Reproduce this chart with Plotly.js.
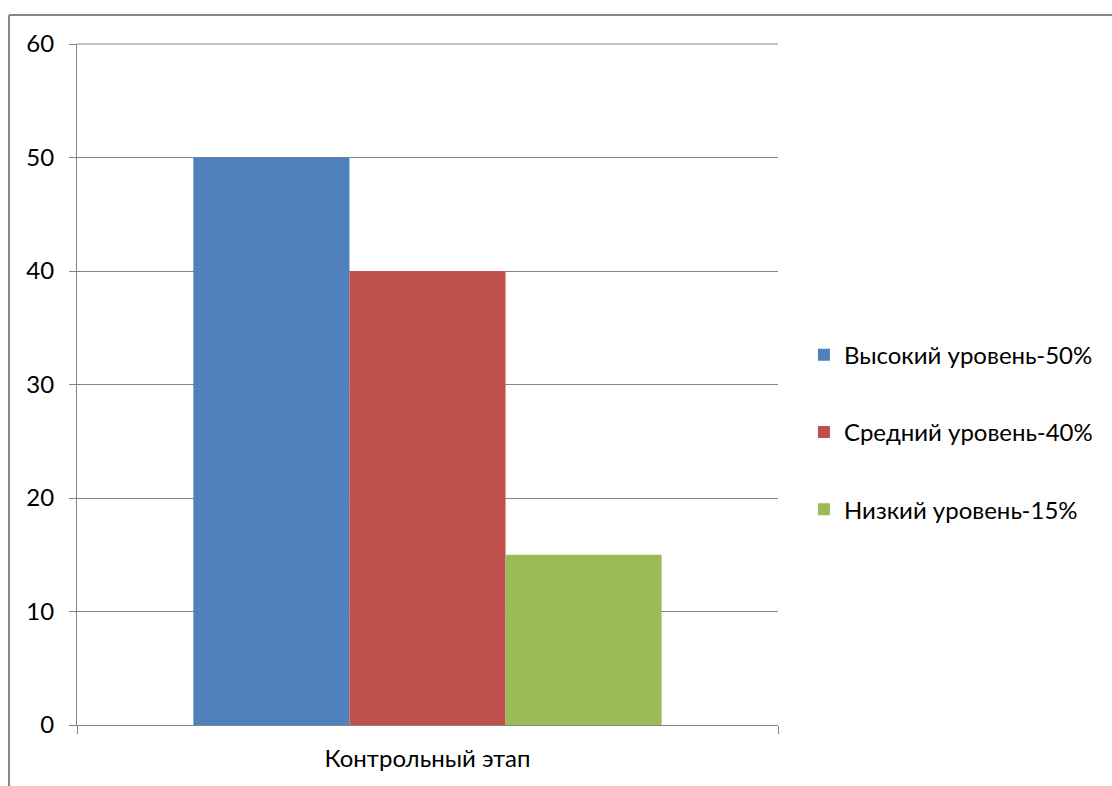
<!DOCTYPE html>
<html>
<head>
<meta charset="utf-8">
<script src="https://cdn.plot.ly/plotly-3.0.1.min.js"></script>
<style>html,body{margin:0;padding:0;background:#fff;}#chart{width:1112px;height:786px;}</style>
</head>
<body>
<div id="chart"></div>
<script>
const categories = ["Контрольный этап"];
const seriesNames = ["Высокий уровень-50%", "Средний уровень-40%", "Низкий уровень-15%"];
const seriesValues = [[50], [40], [15]];
const seriesColors = ["#4F81BD", "#C0504D", "#9BBB59"];
const yTicks = [0, 10, 20, 30, 40, 50, 60];

const FONT = "Lato, 'Open Sans', sans-serif";
const traces = seriesNames.map((n, i) => ({
  type: "bar",
  name: n,
  x: categories,
  y: seriesValues[i],
  marker: {color: seriesColors[i], line: {width: 0}},
  legendgroup: "g" + i,
  hoverinfo: "none"
}));

const layout = {
  width: 1112, height: 786,
  margin: {l: 77, r: 334, t: 44, b: 61},
  paper_bgcolor: "#fff", plot_bgcolor: "#fff",
  barmode: "group", bargap: 0.332, bargroupgap: 0,
  font: {family: FONT, size: 24, color: "#000"},
  showlegend: true,
  legend: {x: 1.037, xanchor: "left", y: 0.43, yanchor: "middle",
           traceorder: "grouped", tracegroupgap: 43,
           font: {family: FONT, size: 24, color: "#000"}},
  xaxis: {
    type: "category", range: [-0.5, 0.5],
    showline: true, linecolor: "#868686", linewidth: 1,
    ticks: "outside", tickson: "boundaries", ticklen: 8, tickcolor: "#868686",
    showgrid: false, zeroline: false,
    tickfont: {family: FONT, size: 24}, ticklabelstandoff: 12
  },
  yaxis: {
    range: [0, 60], tickvals: yTicks, ticktext: yTicks.map(String),
    showline: true, linecolor: "#868686", linewidth: 1,
    ticks: "outside", ticklen: 7, tickcolor: "#868686",
    showgrid: true, gridcolor: "#868686", gridwidth: 1, zeroline: false,
    tickfont: {family: FONT, size: 24}, ticklabelstandoff: 10
  },
  shapes: [
    {type: "line", xref: "paper", yref: "paper", x0: -0.097, x1: 1.6, y0: 1.0426, y1: 1.0426,
     line: {color: "#868686", width: 2}},
    {type: "line", xref: "paper", yref: "paper", x0: -0.097, x1: -0.097, y0: 1.0426, y1: -0.2,
     line: {color: "#868686", width: 2}},
    {type: "line", xref: "paper", yref: "paper", x0: 0, x1: 1, y0: 1, y1: 1,
     line: {color: "#868686", width: 1}}
  ]
};

Plotly.newPlot("chart", traces, layout, {displayModeBar: false, staticPlot: true});
</script>
</body>
</html>
